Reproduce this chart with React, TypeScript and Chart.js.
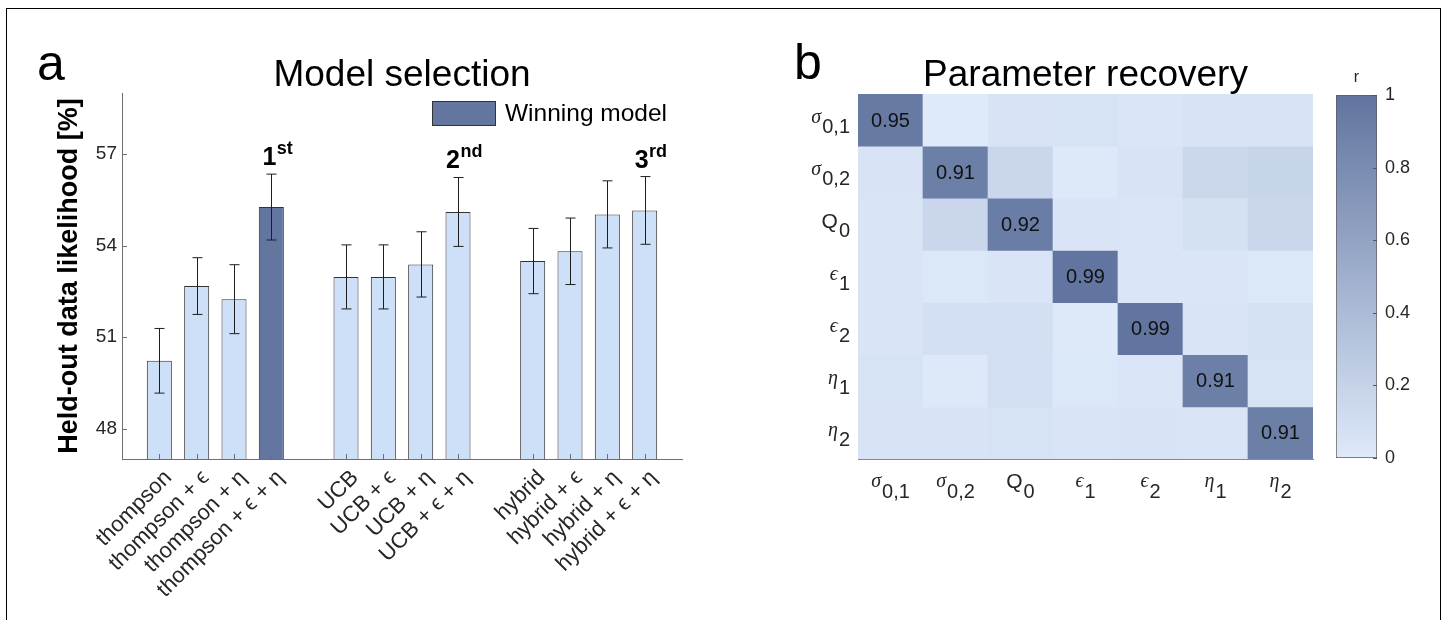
import React, { useEffect, useRef } from 'react';
import { Chart, registerables } from 'chart.js';

Chart.register(...registerables);

const FONT = '"Liberation Sans", Arial, Helvetica, sans-serif';
const GREEK_FONT = '"Liberation Serif", "DejaVu Serif", serif';

// ---------- Panel a: model selection ----------
const models = [
  'thompson', 'thompson + ϵ', 'thompson + η', 'thompson + ϵ + η',
  'UCB', 'UCB + ϵ', 'UCB + η', 'UCB + ϵ + η',
  'hybrid', 'hybrid + ϵ', 'hybrid + η', 'hybrid + ϵ + η',
];
const likelihood = [50.22, 52.67, 52.24, 55.26, 52.97, 52.97, 53.38, 55.1, 53.49, 53.81, 55.02, 55.15];
const sem = [1.06, 0.93, 1.13, 1.08, 1.05, 1.05, 1.07, 1.13, 1.07, 1.09, 1.1, 1.11];
const winningModel = 3;
const rankModels = [3, 7, 11];
const rankNumbers = ['1', '2', '3'];
const rankSuffixes = ['st', 'nd', 'rd'];
const yTicks = [48, 51, 54, 57];
const yMin = 47;
const yMax = 59;
const modelsPerFamily = 4;

// ---------- Panel b: parameter recovery ----------
const paramSymbols = ['σ', 'σ', 'Q', 'ϵ', 'ϵ', 'η', 'η'];
const paramSubscripts = ['0,1', '0,2', '0', '1', '2', '1', '2'];
const recoveryR = [
  [0.95, 0.0, 0.05, 0.06, 0.03, 0.05, 0.05],
  [0.05, 0.91, 0.17, 0.01, 0.05, 0.15, 0.18],
  [0.04, 0.17, 0.92, 0.04, 0.03, 0.08, 0.17],
  [0.04, 0.02, 0.04, 0.99, 0.03, 0.03, 0.02],
  [0.04, 0.09, 0.09, 0.01, 0.99, 0.04, 0.07],
  [0.06, 0.01, 0.09, 0.02, 0.03, 0.91, 0.06],
  [0.05, 0.05, 0.06, 0.04, 0.05, 0.04, 0.91],
];
const colorbarTicks = [0, 0.2, 0.4, 0.6, 0.8, 1];

// ---------- styles ----------
const LIGHT_BAR = 'rgb(206,224,247)';
const DARK_BAR = 'rgb(98,118,160)';
const CMAP_LOW = [222, 234, 250];
const CMAP_HIGH = [96, 116, 159];
const AXIS_COLOR = '#6e6e6e';
const TICK_TEXT = '#262626';
const B_LEFT = 760;

function cmap(v: number): string {
  const t = Math.max(0, Math.min(1, v));
  const c = CMAP_LOW.map((lo, k) => Math.round(lo + (CMAP_HIGH[k] - lo) * t));
  return `rgb(${c[0]},${c[1]},${c[2]})`;
}

function slotOf(i: number): number {
  return 1 + i + Math.floor(i / modelsPerFamily);
}

const slotCount = slotOf(models.length - 1) + 2;
const slotLabels: string[] = Array(slotCount).fill('');
const slotValues: (number | null)[] = Array(slotCount).fill(null);
const slotColors: string[] = Array(slotCount).fill(LIGHT_BAR);
models.forEach((m, i) => {
  slotLabels[slotOf(i)] = m;
  slotValues[slotOf(i)] = likelihood[i];
  slotColors[slotOf(i)] = i === winningModel ? DARK_BAR : LIGHT_BAR;
});

const panelAPlugin = {
  id: 'panelA',
  afterDatasetsDraw(chart: any) {
    const { ctx, chartArea: ca, scales } = chart;
    const x = scales.x;
    const y = scales.y;
    ctx.save();
    // error bars
    ctx.strokeStyle = '#1e1e1e';
    ctx.lineWidth = 1;
    likelihood.forEach((v, i) => {
      const px = Math.round(x.getPixelForValue(slotOf(i))) + 0.5;
      const top = y.getPixelForValue(v + sem[i]);
      const bot = y.getPixelForValue(v - sem[i]);
      ctx.beginPath();
      ctx.moveTo(px, top);
      ctx.lineTo(px, bot);
      ctx.moveTo(px - 5, top);
      ctx.lineTo(px + 5, top);
      ctx.moveTo(px - 5, bot);
      ctx.lineTo(px + 5, bot);
      ctx.stroke();
    });
    // inward tick marks
    ctx.strokeStyle = AXIS_COLOR;
    ctx.beginPath();
    yTicks.forEach((t) => {
      const py = Math.round(y.getPixelForValue(t)) + 0.5;
      ctx.moveTo(ca.left, py);
      ctx.lineTo(ca.left + 5, py);
    });
    models.forEach((_, i) => {
      const px = Math.round(x.getPixelForValue(slotOf(i))) + 0.5;
      ctx.moveTo(px, ca.bottom);
      ctx.lineTo(px, ca.bottom - 5);
    });
    ctx.stroke();
    ctx.restore();
  },
  afterDraw(chart: any) {
    const { ctx, chartArea: ca, scales } = chart;
    const x = scales.x;
    const y = scales.y;
    ctx.save();
    ctx.fillStyle = '#000';
    // panel letter
    ctx.font = `50px ${FONT}`;
    ctx.textAlign = 'left';
    ctx.textBaseline = 'alphabetic';
    ctx.fillText('a', 37, 80);
    // title
    ctx.font = `37px ${FONT}`;
    ctx.textAlign = 'center';
    ctx.fillText('Model selection', (ca.left + ca.right) / 2, 86);
    // legend
    const bx = ca.right - 250;
    const by = ca.top + 8;
    ctx.fillStyle = DARK_BAR;
    ctx.fillRect(bx, by, 63, 24);
    ctx.strokeStyle = '#333';
    ctx.lineWidth = 1;
    ctx.strokeRect(bx + 0.5, by + 0.5, 63, 24);
    ctx.fillStyle = '#000';
    ctx.font = `24.5px ${FONT}`;
    ctx.textAlign = 'left';
    ctx.textBaseline = 'middle';
    ctx.fillText('Winning model', bx + 73, by + 13);
    // rank labels
    ctx.textBaseline = 'alphabetic';
    rankModels.forEach((m, k) => {
      const px = x.getPixelForValue(slotOf(m)) + 6;
      const py = y.getPixelForValue(likelihood[m] + sem[m]) - 9;
      ctx.font = `bold 25px ${FONT}`;
      const w1 = ctx.measureText(rankNumbers[k]).width;
      ctx.font = `bold 18px ${FONT}`;
      const w2 = ctx.measureText(rankSuffixes[k]).width;
      const start = px - (w1 + w2) / 2;
      ctx.font = `bold 25px ${FONT}`;
      ctx.fillText(rankNumbers[k], start, py);
      ctx.font = `bold 18px ${FONT}`;
      ctx.fillText(rankSuffixes[k], start + w1 + 0.5, py - 11);
    });
    ctx.restore();
  },
};

function drawSymbolLabel(ctx: CanvasRenderingContext2D, k: number, align: 'right' | 'center', ax: number, cy: number, symOff: number, subOff: number) {
  const isLatin = paramSymbols[k] === 'Q';
  const symFont = isLatin ? `21px ${FONT}` : `italic 20px ${GREEK_FONT}`;
  const subFont = `20px ${FONT}`;
  ctx.font = symFont;
  const ws = ctx.measureText(paramSymbols[k]).width;
  ctx.font = subFont;
  const wb = ctx.measureText(paramSubscripts[k]).width;
  const total = ws + 1 + wb;
  const start = align === 'right' ? ax - total : ax - total / 2;
  ctx.textAlign = 'left';
  ctx.textBaseline = 'alphabetic';
  ctx.font = symFont;
  ctx.fillText(paramSymbols[k], start, cy + symOff + (isLatin ? 1 : 0));
  ctx.font = subFont;
  ctx.fillText(paramSubscripts[k], start + ws + 1, cy + subOff);
}

const panelBPlugin = {
  id: 'panelB',
  afterDraw(chart: any) {
    const { ctx, chartArea: ca, scales } = chart;
    const x = scales.x;
    const y = scales.y;
    ctx.save();
    // diagonal values
    ctx.fillStyle = '#111';
    ctx.font = `20px ${FONT}`;
    ctx.textAlign = 'center';
    ctx.textBaseline = 'middle';
    recoveryR.forEach((row, r) => {
      ctx.fillText(row[r].toFixed(2), x.getPixelForValue(r), y.getPixelForValue(r + 0.5) + 1);
    });
    // row labels
    ctx.fillStyle = TICK_TEXT;
    paramSymbols.forEach((_, k) => {
      drawSymbolLabel(ctx, k, 'right', ca.left - 8, y.getPixelForValue(k + 0.5), 3, 13);
    });
    // column labels
    paramSymbols.forEach((_, k) => {
      drawSymbolLabel(ctx, k, 'center', x.getPixelForValue(k), ca.bottom + 16, 12, 23);
    });
    // panel letter + title
    ctx.fillStyle = '#000';
    ctx.font = `50px ${FONT}`;
    ctx.textAlign = 'left';
    ctx.fillText('b', 794 - B_LEFT, 79);
    ctx.font = `37px ${FONT}`;
    ctx.textAlign = 'center';
    ctx.fillText('Parameter recovery', (ca.left + ca.right) / 2, 86);
    ctx.restore();
  },
};

const colorbarPlugin = {
  id: 'colorbarTicks',
  afterDatasetsDraw(chart: any) {
    const { ctx, chartArea: ca, scales } = chart;
    const y = scales.y;
    ctx.save();
    ctx.strokeStyle = '#555';
    ctx.lineWidth = 1;
    ctx.beginPath();
    colorbarTicks.forEach((t) => {
      const py = Math.round(y.getPixelForValue(t)) + 0.5;
      ctx.moveTo(ca.right - 4, py);
      ctx.lineTo(ca.right, py);
    });
    ctx.stroke();
    ctx.restore();
  },
};

function useChart(ref: React.RefObject<HTMLCanvasElement>, make: (c: HTMLCanvasElement) => Chart) {
  useEffect(() => {
    if (!ref.current) return;
    const chart = make(ref.current);
    return () => chart.destroy();
  }, []);
}

export default function App() {
  const aRef = useRef<HTMLCanvasElement>(null);
  const bRef = useRef<HTMLCanvasElement>(null);
  const cRef = useRef<HTMLCanvasElement>(null);

  useEffect(() => {
    document.body.style.margin = '0';
    document.body.style.overflow = 'hidden';
  }, []);

  useChart(aRef as any, (canvas) =>
    new Chart(canvas, {
      type: 'bar',
      data: {
        labels: slotLabels,
        datasets: [
          {
            label: 'Held-out data likelihood',
            data: slotValues as any,
            backgroundColor: slotColors,
            borderColor: '#333',
            borderWidth: 1,
            categoryPercentage: 0.67,
            barPercentage: 1,
          },
        ],
      },
      options: {
        animation: false,
        responsive: false,
        events: [],
        layout: { padding: { left: 50, right: 78, top: 93, bottom: 0 } },
        plugins: { legend: { display: false }, tooltip: { enabled: false }, title: { display: false } },
        scales: {
          x: {
            type: 'category',
            offset: false,
            grid: { display: false, drawTicks: false },
            border: { display: true, color: AXIS_COLOR, width: 1 },
            ticks: {
              autoSkip: false,
              minRotation: 45,
              maxRotation: 45,
              padding: 6,
              labelOffset: 9,
              color: TICK_TEXT,
              font: { size: 22, family: FONT },
            },
            afterFit: (s: any) => {
              s.height = 161;
            },
          },
          y: {
            min: yMin,
            max: yMax,
            grid: { display: false, drawTicks: false },
            border: { display: true, color: AXIS_COLOR, width: 1 },
            ticks: { padding: 5, color: TICK_TEXT, font: { size: 19, family: FONT } },
            afterBuildTicks: (s: any) => {
              s.ticks = yTicks.map((v) => ({ value: v }));
            },
            afterFit: (s: any) => {
              s.width = 72;
            },
            title: {
              display: true,
              text: 'Held-out data likelihood [%]',
              color: '#000',
              font: { size: 27, weight: 'bold', family: FONT },
              padding: { top: 3, bottom: 4 },
            },
          },
        },
      },
      plugins: [panelAPlugin],
    } as any)
  );

  useChart(bRef as any, (canvas) =>
    new Chart(canvas, {
      type: 'bar',
      data: {
        labels: paramSubscripts.map((s, k) => paramSymbols[k] + s),
        datasets: recoveryR.map((row, r) => ({
          label: paramSymbols[r] + paramSubscripts[r],
          data: row.map(() => 1),
          backgroundColor: row.map((v) => cmap(v)),
          borderWidth: 0,
          barPercentage: 1,
          categoryPercentage: 1,
        })),
      },
      options: {
        animation: false,
        responsive: false,
        events: [],
        layout: { padding: { left: 98, right: 27, top: 94, bottom: 161 } },
        plugins: { legend: { display: false }, tooltip: { enabled: false } },
        scales: {
          x: {
            stacked: true,
            offset: true,
            grid: { display: false, drawTicks: false },
            border: { display: true, color: '#8a8a8a', width: 1 },
            ticks: { display: false },
            afterFit: (s: any) => {
              s.height = 0;
            },
          },
          y: {
            stacked: true,
            min: 0,
            max: recoveryR.length,
            reverse: true,
            grid: { display: false, drawTicks: false },
            border: { display: true, color: '#8a8a8a', width: 1 },
            ticks: { display: false },
            afterFit: (s: any) => {
              s.width = 0;
            },
          },
        },
      },
      plugins: [panelBPlugin],
    } as any)
  );

  useChart(cRef as any, (canvas) =>
    new Chart(canvas, {
      type: 'bar',
      data: {
        labels: ['r'],
        datasets: [
          {
            label: 'r',
            data: [colorbarTicks[colorbarTicks.length - 1]],
            backgroundColor: (ctx: any) => {
              const area = ctx.chart.chartArea;
              if (!area) return cmap(0.5);
              const g = ctx.chart.ctx.createLinearGradient(0, area.bottom, 0, area.top);
              for (let i = 0; i <= 10; i++) g.addColorStop(i / 10, cmap(i / 10));
              return g;
            },
            borderColor: '#5a5a5a',
            borderWidth: 1,
            borderSkipped: false,
            barPercentage: 1,
            categoryPercentage: 1,
          },
        ],
      },
      options: {
        animation: false,
        responsive: false,
        events: [],
        layout: { padding: { left: 16, right: 0, top: 0, bottom: 162 } },
        plugins: { legend: { display: false }, tooltip: { enabled: false } },
        scales: {
          x: {
            position: 'top',
            offset: true,
            grid: { display: false, drawTicks: false },
            border: { display: false },
            ticks: { padding: 8, color: TICK_TEXT, font: { size: 16, family: FONT } },
            afterFit: (s: any) => {
              s.height = 95;
            },
          },
          y: {
            position: 'right',
            min: colorbarTicks[0],
            max: colorbarTicks[colorbarTicks.length - 1],
            grid: { display: false, drawTicks: false },
            border: { display: false },
            ticks: {
              padding: 8,
              color: TICK_TEXT,
              font: { size: 18, family: FONT },
              callback: (v: any) => String(Math.round(Number(v) * 10) / 10),
            },
            afterBuildTicks: (s: any) => {
              s.ticks = colorbarTicks.map((v) => ({ value: v }));
            },
            afterFit: (s: any) => {
              s.width = 67;
            },
          },
        },
      },
      plugins: [colorbarPlugin],
    } as any)
  );

  return (
    <div style={{ position: 'absolute', left: 0, top: 0, width: 1444, height: 620, overflow: 'hidden', background: '#fff' }}>
      <canvas ref={aRef} width={760} height={620} style={{ position: 'absolute', left: 0, top: 0, width: 760, height: 620 }} />
      <canvas ref={bRef} width={580} height={620} style={{ position: 'absolute', left: B_LEFT, top: 0, width: 580, height: 620 }} />
      <canvas ref={cRef} width={124} height={620} style={{ position: 'absolute', left: 1320, top: 0, width: 124, height: 620 }} />
      <div
        style={{
          position: 'absolute',
          left: 6,
          top: 8,
          width: 1435,
          height: 700,
          boxSizing: 'border-box',
          borderTop: '1.5px solid #000',
          borderLeft: '1.5px solid #000',
          borderRight: '1.5px solid #000',
          pointerEvents: 'none',
        }}
      />
    </div>
  );
}
